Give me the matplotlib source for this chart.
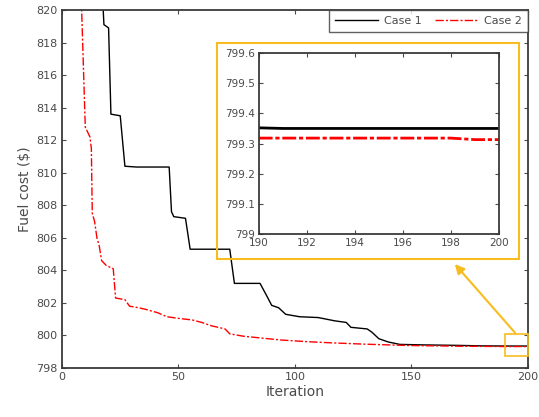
import matplotlib
matplotlib.use("Agg")
import matplotlib.pyplot as plt
from matplotlib.patches import Rectangle, FancyArrowPatch

plt.rcParams['font.family'] = ['DejaVu Sans']

# Case 1 (black solid)
case1_iter = [0, 17, 18, 20, 21, 25, 27, 32, 46, 47, 48, 53, 55, 72, 74, 85, 88, 90, 93, 96,
              102, 110, 117, 122, 124, 131, 133, 136, 140, 145, 155, 170, 180, 190, 191, 200]
case1_cost = [840, 822, 819.1, 818.9, 813.6, 813.5, 810.4, 810.35, 810.35, 807.6, 807.3, 807.2,
              805.3, 805.3, 803.2, 803.2, 802.4, 801.85, 801.7, 801.3,
              801.15, 801.1, 800.9, 800.8, 800.5, 800.4, 800.2, 799.8, 799.6, 799.45, 799.42,
              799.39, 799.36, 799.352, 799.35, 799.35]

# Case 2 (red dash-dot)
case2_iter = [0, 8, 10, 12, 12.6, 13, 14, 15, 16, 17, 19, 22, 23, 27, 29, 33, 36, 41, 45, 50,
              56, 60, 64, 70, 72, 78, 85, 94, 105, 115, 129, 140, 150, 170, 190, 198, 199, 200]
case2_cost = [840, 822, 812.8, 812.2, 811.5, 807.5, 807.0, 806.0, 805.5, 804.6, 804.3, 804.1,
              802.3, 802.2, 801.8, 801.7, 801.6, 801.4, 801.15, 801.05,
              800.95, 800.8, 800.6, 800.4, 800.1, 799.95, 799.85, 799.72, 799.62, 799.55,
              799.47, 799.42, 799.38, 799.34, 799.318, 799.318, 799.313, 799.313]

x_ticks = [0, 50, 100, 150, 200]
y_ticks = [798, 800, 802, 804, 806, 808, 810, 812, 814, 816, 818, 820]
inset_x_ticks = [190, 192, 194, 196, 198, 200]
inset_y_ticks = [799, 799.1, 799.2, 799.3, 799.4, 799.5, 799.6]
inset_y_labels = ['799', '799.1', '799.2', '799.3', '799.4', '799.5', '799.6']

yellow = '#F7BC1E'
axcol = '#3a3a3a'
txtcol = '#4a4a4a'
red_dash = (0, (6, 1.5, 1.5, 1.5))

fig = plt.figure(figsize=(5.39, 4.17), dpi=100)
ax = fig.add_axes([0.115, 0.1175, 0.8646, 0.8585])
ax.plot(case1_iter, case1_cost, color='black', lw=1.0, label='Case 1')
ax.plot(case2_iter, case2_cost, color='red', lw=1.0, linestyle=red_dash, label='Case 2')
ax.set_xlim(0, 200)
ax.set_ylim(798, 820)
ax.set_xticks(x_ticks)
ax.set_yticks(y_ticks)
ax.tick_params(direction='in', top=True, right=True, labelsize=8, colors=txtcol,
               length=3, width=0.8, pad=3)
for s in ax.spines.values():
    s.set_color(axcol)
    s.set_linewidth(1.3)
ax.set_xlabel('Iteration', fontsize=10, color=txtcol, labelpad=2)
ax.set_ylabel('Fuel cost ($)', fontsize=10, color=txtcol, labelpad=3)
leg = ax.legend(loc='upper right', ncol=2, fontsize=8, frameon=True, fancybox=False,
                borderaxespad=0.0, handlelength=3.9, columnspacing=1.2, borderpad=0.55,
                handletextpad=0.5)
leg.get_frame().set_edgecolor(axcol)
leg.get_frame().set_linewidth(1.0)
for t in leg.get_texts():
    t.set_color(txtcol)

# small zoom rectangle on main axes
ax.add_patch(Rectangle((190, 798.72), 10, 1.4, fill=False, edgecolor=yellow, lw=1.2,
                       clip_on=False, zorder=5))

# big yellow frame around inset (figure coords)
fig.add_artist(Rectangle((0.4026, 0.379), 0.5603, 0.518, transform=fig.transFigure,
                         fill=False, edgecolor=yellow, lw=1.5, zorder=6))

# arrow
arrow = FancyArrowPatch((517 / 539, 1 - 335 / 417), (453 / 539, 1 - 262 / 417),
                        transform=fig.transFigure, arrowstyle='-|>', mutation_scale=14,
                        color=yellow, lw=1.5, zorder=6)
fig.add_artist(arrow)

# inset axes
axi = fig.add_axes([0.4805, 0.4388, 0.445, 0.434])
axi.plot(case1_iter, case1_cost, color='black', lw=2.0)
axi.plot(case2_iter, case2_cost, color='red', lw=2.0, linestyle=(0, (5, 1, 1.5, 1)))
axi.set_xlim(190, 200)
axi.set_ylim(799, 799.6)
axi.set_xticks(inset_x_ticks)
axi.set_yticks(inset_y_ticks)
axi.set_yticklabels(inset_y_labels)
axi.tick_params(direction='in', top=True, right=True, labelsize=7.5, colors=txtcol,
                length=3, width=0.8, pad=3)
for s in axi.spines.values():
    s.set_color(axcol)
    s.set_linewidth(1.3)

fig.savefig('out.png', dpi=100)
